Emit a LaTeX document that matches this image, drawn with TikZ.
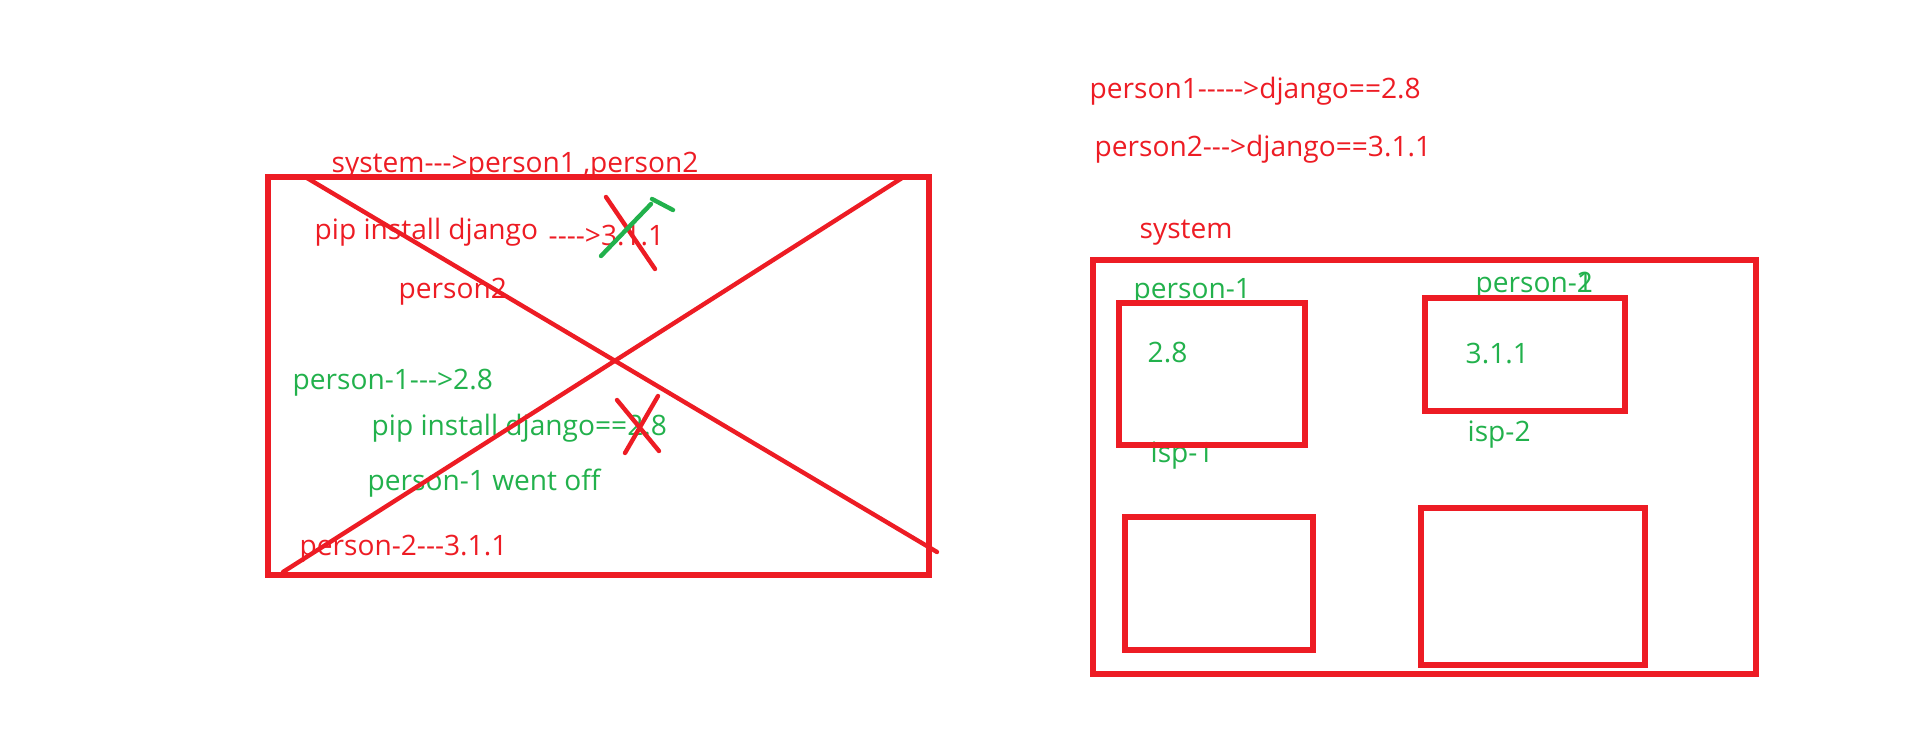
\documentclass[tikz,border=0pt]{standalone}
\usepackage{fontspec}
\setmainfont{Open Sans}[Ligatures=TeXOff]
\definecolor{paintred}{HTML}{ED1C24}
\definecolor{paintgreen}{HTML}{22B14C}
\tikzset{
  redtext/.style={text=paintred,anchor=base west,inner sep=0pt,font=\fontsize{8}{9.6}\selectfont},
  greentext/.style={redtext,text=paintgreen},
  pen/.style={paintred,line width=1.45pt,line cap=round},
  stroke/.style={pen,line width=1.25pt},
}
\begin{document}
\begin{tikzpicture}
            \useasboundingbox (0,0) rectangle (19.14,-7.39);
            % Coordinates
            \coordinate (L1) at (2.68,-1.77);
            \coordinate (L2) at (9.29,-5.75);
            \coordinate (D1a) at (3.07,-1.78);
            \coordinate (D1b) at (9.37,-5.52);
            \coordinate (D2a) at (2.83,-5.72);
            \coordinate (D2b) at (9.02,-1.78);
            \coordinate (XAa) at (6.06,-1.97);
            \coordinate (XAb) at (6.55,-2.69);
            \coordinate (TKa) at (6.01,-2.56);
            \coordinate (TKb) at (6.51,-2.04);
            \coordinate (TKc) at (6.52,-1.99);
            \coordinate (TKd) at (6.73,-2.10);
            \coordinate (XBa) at (6.17,-4.00);
            \coordinate (XBb) at (6.59,-4.51);
            \coordinate (XBc) at (6.58,-3.96);
            \coordinate (XBd) at (6.25,-4.53);
            \coordinate (S1) at (10.93,-2.60);
            \coordinate (S2) at (17.56,-6.74);
            \coordinate (A1) at (11.19,-3.03);
            \coordinate (A2) at (13.05,-4.45);
            \coordinate (B1) at (14.25,-2.98);
            \coordinate (B2) at (16.25,-4.11);
            \coordinate (C1) at (11.25,-5.17);
            \coordinate (C2) at (13.13,-6.50);
            \coordinate (E1) at (14.21,-5.08);
            \coordinate (E2) at (16.45,-6.65);
            % Labels left
            \node[redtext] (sysleft) at (3.31,-1.72) {system--->person1 ,person2};
            \node[redtext] (pipleft) at (3.14,-2.39) {pip install django};
            \node[redtext] (verleft) at (5.48,-2.45) {---->3.1.1};
            \node[redtext] (ptwo) at (3.98,-2.98) {person2};
            \node[greentext] (pone) at (2.92,-3.89) {person-1--->2.8};
            \node[greentext] (pipgreen) at (3.71,-4.35) {pip install django==2.8};
            \node[greentext] (wentoff) at (3.67,-4.90) {person-1 went off};
            \node[redtext] (ptwover) at (2.99,-5.55) {person-2---3.1.1};
            % Labels right
            \node[redtext] (reqone) at (10.89,-0.98) {person1----->django==2.8};
            \node[redtext] (reqtwo) at (10.94,-1.56) {person2--->django==3.1.1};
            \node[redtext] (sysright) at (11.39,-2.38) {system};
            \node[greentext] (envone) at (11.33,-2.98) {person-1};
            \node[greentext] (verone) at (11.47,-3.62) {2.8};
            \node[greentext] (ispone) at (11.50,-4.62) {isp-1};
            \node[greentext] (envtwo) at (14.75,-2.92) {person-\rlap{1}2};
            \node[greentext] (vertwo) at (14.65,-3.63) {3.1.1};
            \node[greentext] (isptwo) at (14.67,-4.41) {isp-2};
            % Boxes
            \draw[pen] (L1) rectangle (L2);
            \draw[pen] (S1) rectangle (S2);
            \draw[pen] (A1) rectangle (A2);
            \draw[pen] (B1) rectangle (B2);
            \draw[pen] (C1) rectangle (C2);
            \draw[pen] (E1) rectangle (E2);
            % draw additional lines
            \draw[stroke] (D1a) -- (D1b);
            \draw[stroke] (D2a) -- (D2b);
            \draw[stroke] (XAa) -- (XAb);
            \draw[stroke,paintgreen] (TKa) -- (TKb);
            \draw[stroke,paintgreen] (TKc) -- (TKd);
            \draw[stroke] (XBa) -- (XBb);
            \draw[stroke] (XBc) -- (XBd);
        \end{tikzpicture}
\end{document}
